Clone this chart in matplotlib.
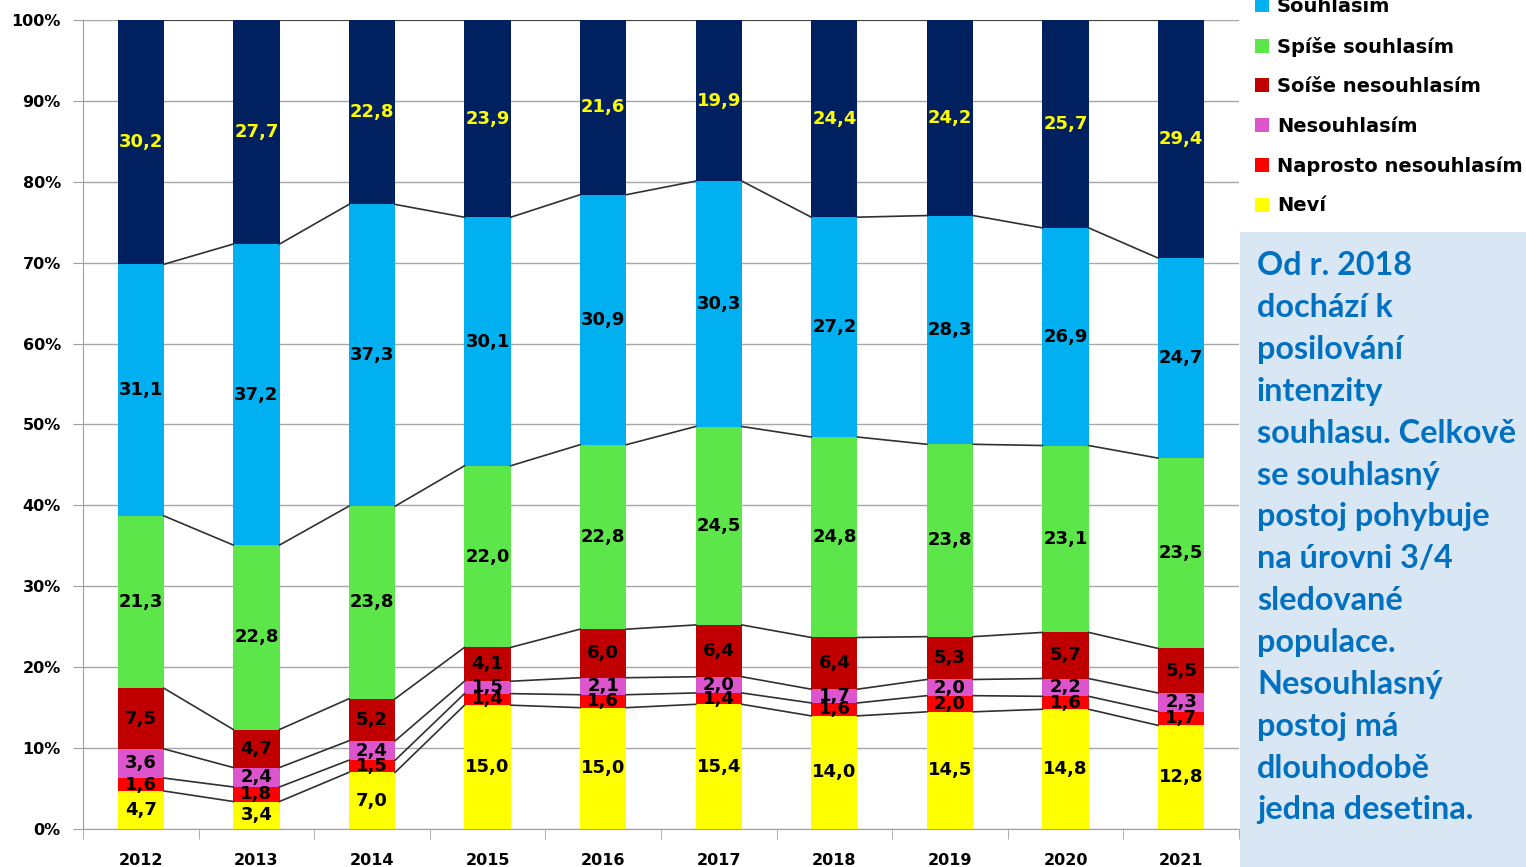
import matplotlib.pyplot as plt
import numpy as np
from matplotlib.patches import Rectangle, Patch

# Years and answer shares (as printed on the chart, normalised to 100 % per bar)
years = ["2012", "2013", "2014", "2015", "2016", "2017", "2018", "2019", "2020", "2021"]
nevi = [4.7, 3.4, 7.0, 15.0, 15.0, 15.4, 14.0, 14.5, 14.8, 12.8]
naprosto_nes = [1.6, 1.8, 1.5, 1.4, 1.6, 1.4, 1.6, 2.0, 1.6, 1.7]
nesouhlasim = [3.6, 2.4, 2.4, 1.5, 2.1, 2.0, 1.7, 2.0, 2.2, 2.3]
spise_nes = [7.5, 4.7, 5.2, 4.1, 6.0, 6.4, 6.4, 5.3, 5.7, 5.5]
spise_souh = [21.3, 22.8, 23.8, 22.0, 22.8, 24.5, 24.8, 23.8, 23.1, 23.5]
souhlasim = [31.1, 37.2, 37.3, 30.1, 30.9, 30.3, 27.2, 28.3, 26.9, 24.7]
naprosto_souh = [30.2, 27.7, 22.8, 23.9, 21.6, 19.9, 24.4, 24.2, 25.7, 29.4]

series = [
    ("Neví", nevi, "#ffff00"),
    ("Naprosto nesouhlasím", naprosto_nes, "#ff0000"),
    ("Nesouhlasím", nesouhlasim, "#dd55cc"),
    ("Soíše nesouhlasím", spise_nes, "#c00000"),
    ("Spíše souhlasím", spise_souh, "#5ce64a"),
    ("Souhlasím", souhlasim, "#00b0f0"),
    ("Naprosto souhlasím", naprosto_souh, "#002060"),
]

note = ("Od r. 2018\ndochází k\nposilování\nintenzity\nsouhlasu. Celkově\n"
        "se souhlasný\npostoj pohybuje\nna úrovni 3/4\nsledované\npopulace.\n"
        "Nesouhlasný\npostoj má\ndlouhodobě\njedna desetina.")

plt.rcParams['font.family'] = ['DejaVu Sans']

fig = plt.figure(figsize=(15.26, 8.67), dpi=100)
ax = fig.add_axes([0.0544, 0.0438, 0.7575, 0.9332])

x = np.arange(len(years))
raw = np.array([s[1] for s in series])
pct = raw / raw.sum(axis=0) * 100
w = 0.4

bottom = np.zeros(len(years))
tops = []
for (name, vals, color), p in zip(series, pct):
    ax.bar(x, p, w, bottom=bottom, color=color, zorder=3)
    txt_color = "#ffff00" if name == "Naprosto souhlasím" else "black"
    for i, v in enumerate(vals):
        ax.text(x[i], bottom[i] + p[i] / 2, f"{v:.1f}".replace(".", ","),
                ha="center", va="center", fontsize=13, fontweight="bold",
                color=txt_color, zorder=5)
    bottom = bottom + p
    tops.append(bottom.copy())

# series lines between bars
for t in tops:
    for i in range(len(years) - 1):
        ax.plot([x[i] + w / 2, x[i + 1] - w / 2], [t[i], t[i + 1]],
                color="#303030", lw=1.2, zorder=4)

ax.set_xlim(-0.5, len(years) - 0.5)
ax.set_ylim(0, 100)
ax.set_yticks(np.arange(0, 101, 10))
ax.set_yticklabels([f"{v}%" for v in range(0, 101, 10)])
ax.set_xticks(x)
ax.set_xticklabels(years)
ax.set_xticks(np.arange(-0.5, len(years), 1), minor=True)
ax.tick_params(axis="x", which="major", length=0, pad=17)
ax.tick_params(axis="x", which="minor", length=7, color="#a0a0a0")
ax.tick_params(axis="y", length=7, color="#a0a0a0", pad=9)
for lab in ax.get_xticklabels() + ax.get_yticklabels():
    lab.set_fontweight("bold")
    lab.set_fontsize(11.5)
ax.grid(axis="y", color="#a6a6a6", lw=1, zorder=0)
ax.spines["top"].set_visible(False)
ax.spines["right"].set_visible(False)
ax.spines["left"].set_color("#a0a0a0")
ax.spines["bottom"].set_color("#a0a0a0")

# note box
fig.patches.append(Rectangle((0.8126, 0), 0.19, 0.7324, transform=fig.transFigure,
                             facecolor="#d9e6f4", edgecolor="none", zorder=0))
fig.text(0.8237, 0.710, note, ha="left", va="top", fontsize=23.3,
         fontweight="bold", color="#0070c0", family=["Lato", "DejaVu Sans"],
         linespacing=1.535)

# legend (top entry cut off by the figure edge, as in the original)
handles = [Patch(facecolor=c, edgecolor="none", label=n) for n, _, c in series[::-1]]
fig.legend(handles=handles, loc="upper left", bbox_to_anchor=(0.8107, 1.070),
           frameon=False, handlelength=0.75, handleheight=0.75,
           handletextpad=0.4, labelspacing=1.06, prop={"weight": "bold", "size": 14})

fig.savefig("out.png", dpi=100)
